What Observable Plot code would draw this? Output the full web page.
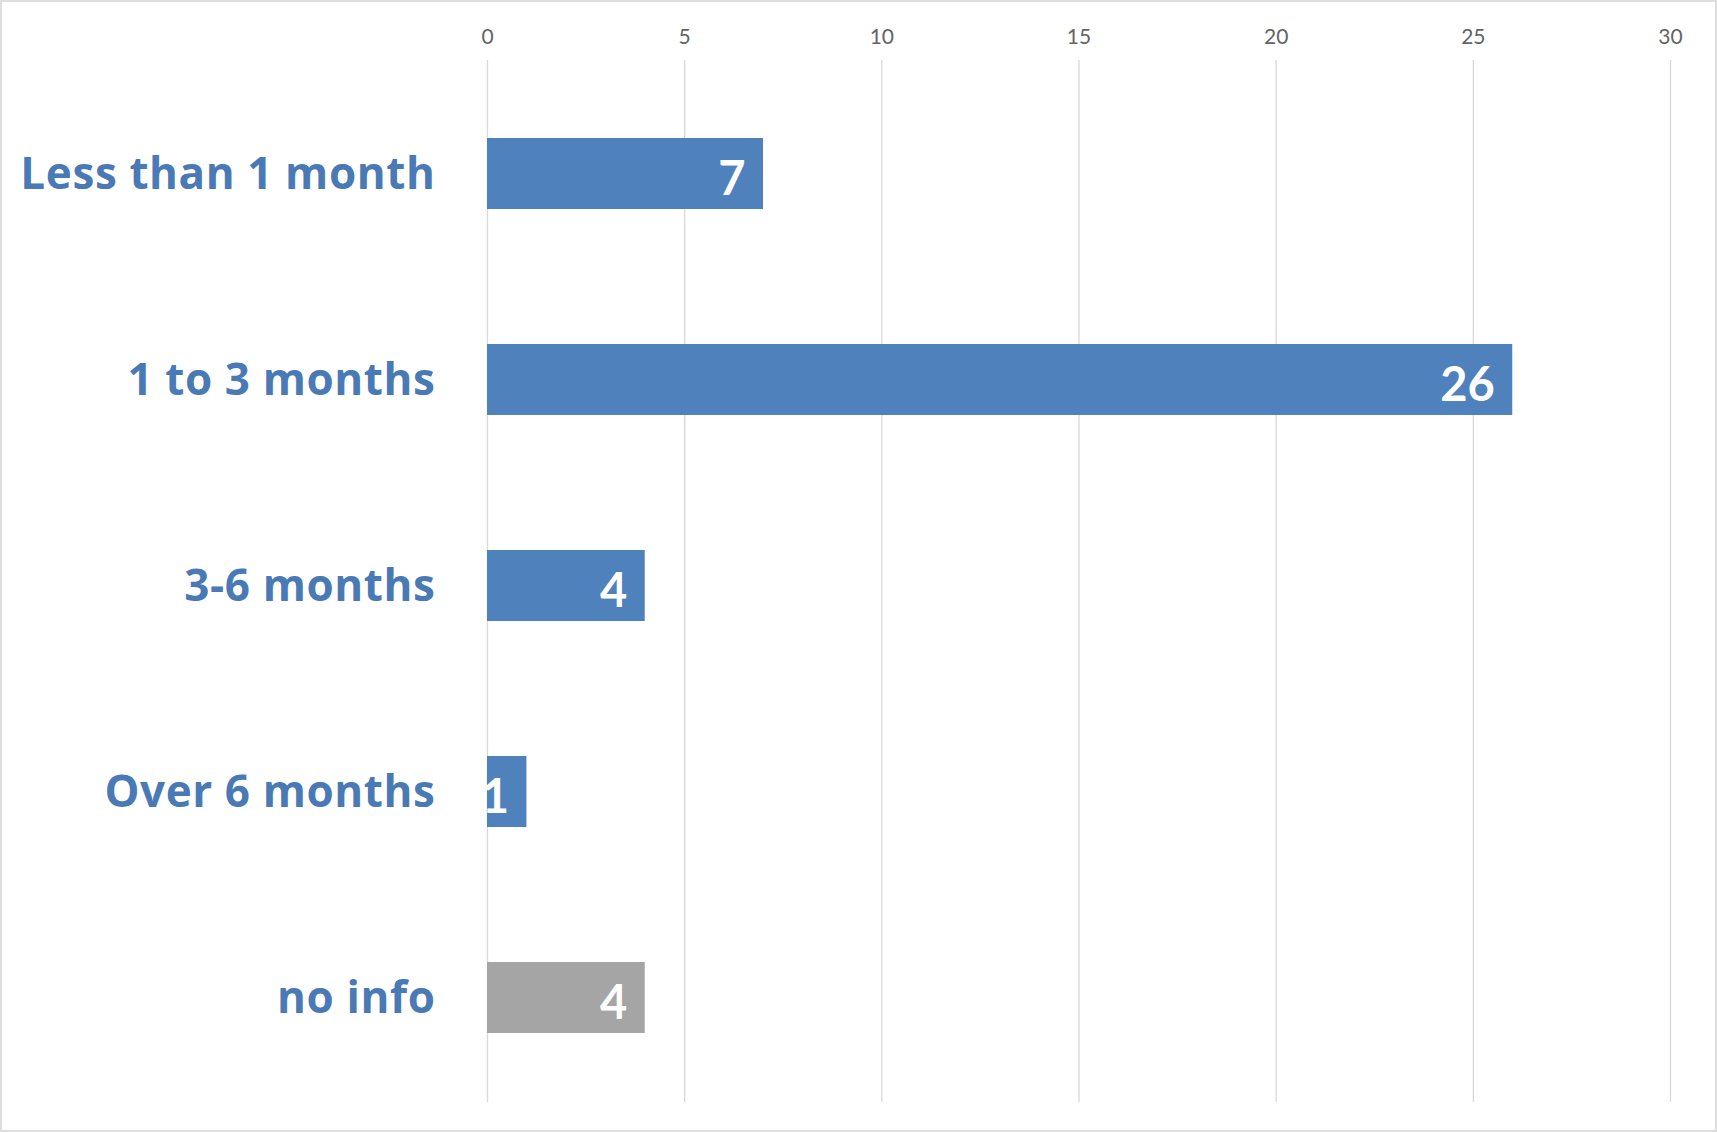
<!DOCTYPE html>
<html>
<head>
<meta charset="utf-8">
<script src="https://cdn.jsdelivr.net/npm/d3@7"></script>
<script src="https://cdn.jsdelivr.net/npm/@observablehq/plot@0.6"></script>
<style>
  html, body { margin: 0; padding: 0; background: #ffffff; }
  #chart { width: 1717px; height: 1132px; }
  g[aria-label="y-axis tick label"] text { letter-spacing: 0.6px; }
</style>
</head>
<body>
<div id="chart"></div>
<script>
const categories = ["Less than 1 month", "1 to 3 months", "3-6 months", "Over 6 months", "no info"];
const values = [7, 26, 4, 1, 4];
const xTicks = [0, 5, 10, 15, 20, 25, 30];

const data = categories.map((c, i) => ({category: c, value: values[i]}));
const BLUE = "#4F81BD";
const GRAY = "#A5A5A5";

const chart = Plot.plot({
  width: 1717,
  height: 1132,
  marginLeft: 487,
  marginRight: 47,
  marginTop: 60,
  marginBottom: 30,
  style: {
    fontFamily: "Lato, 'Open Sans', sans-serif",
    background: "#ffffff",
    outline: "2px solid #dedede",
    outlineOffset: "-2px"
  },
  x: {
    domain: [0, 30],
    ticks: xTicks,
    axis: null
  },
  y: {
    domain: categories,
    axis: null,
    paddingInner: 0.655,
    paddingOuter: 0.3275,
    insetTop: 11,
    insetBottom: 1
  },
  marks: [
    Plot.gridX(xTicks, {stroke: "#d9d9d9", strokeOpacity: 1, strokeWidth: 1.3}),
    Plot.axisX(xTicks, {
      anchor: "top",
      tickSize: 0,
      tickPadding: 17,
      fontSize: 21,
      fill: "#646464",
      label: null
    }),
    Plot.barX(data, {
      y: "category",
      x: "value",
      fill: d => d.category === "no info" ? GRAY : BLUE
    }),
    Plot.axisY({
      anchor: "left",
      tickSize: 0,
      tickPadding: 52,
      fontSize: 44,
      fontWeight: "bold",
      fontFamily: "'Open Sans', sans-serif",
      fill: "#4A7AB5",
      label: null,
      dy: 1
    }),
    Plot.text(data, {
      y: "category",
      x: "value",
      text: d => String(d.value),
      textAnchor: "end",
      dx: -18,
      dy: 6,
      fill: "#ffffff",
      fontSize: 47,
      fontWeight: "bold"
    })
  ]
});

document.getElementById("chart").appendChild(chart);
</script>
</body>
</html>
